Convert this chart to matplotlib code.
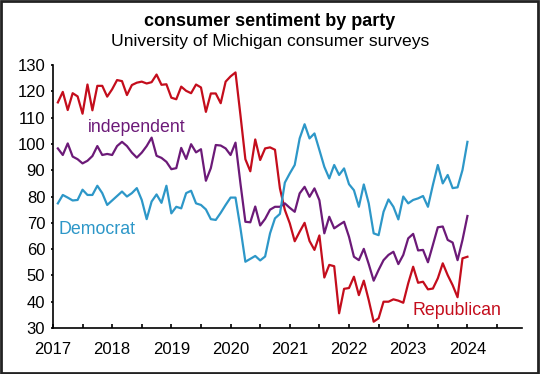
import numpy as np
import matplotlib
matplotlib.use('Agg')
import matplotlib.pyplot as plt
from matplotlib.patches import Rectangle

plt.rcParams['font.family'] = ['Liberation Sans', 'DejaVu Sans']

# monthly readings, Jan 2017 .. Dec 2023
republican = [115.8, 119.8, 112.9, 119.3, 118.1, 111.5, 122.6, 112.8, 122.1, 122.1, 118.0, 120.8,
              124.3, 123.9, 118.6, 122.4, 123.3, 123.7, 123.0, 123.5, 126.4, 122.5, 122.7, 117.6,
              117.0, 121.8, 120.2, 119.3, 122.6, 121.5, 112.2, 119.2, 119.2, 115.5, 123.7, 125.7,
              127.2, 111.0, 94.2, 89.6, 101.7, 93.9, 98.3, 98.7, 97.8, 83.1, 74.9, 69.8,
              63.0, 66.6, 70.0, 63.1, 59.7, 65.2, 49.2, 54.0, 53.5, 35.6, 44.9, 45.2,
              49.5, 42.5, 48.0, 40.6, 32.4, 33.7, 40.0, 40.0, 40.9, 40.4, 39.6, 47.0,
              53.3, 47.2, 47.6, 44.7, 45.0, 48.9, 54.6, 50.1, 46.3, 41.7, 56.5, 57.1]
independent = [98.3, 95.8, 100.2, 95.2, 94.2, 92.6, 93.6, 95.4, 99.2, 95.8, 96.2, 95.8,
               99.2, 100.8, 99.2, 96.7, 94.8, 96.7, 99.2, 102.4, 95.5, 94.7, 93.2, 90.4,
               90.8, 98.5, 94.3, 99.9, 96.8, 98.0, 86.0, 90.8, 99.6, 99.4, 98.3, 95.8,
               100.5, 85.0, 70.4, 70.2, 76.2, 69.0, 71.5, 75.0, 76.1, 76.1, 77.4, 75.7,
               74.2, 81.2, 83.7, 79.9, 83.1, 78.6, 66.0, 72.3, 67.9, 69.2, 70.4, 64.7,
               57.1, 55.8, 60.1, 54.3, 48.0, 52.1, 55.8, 57.8, 59.0, 54.3, 57.8, 64.1,
               65.8, 59.5, 59.7, 55.0, 61.6, 68.3, 68.6, 63.5, 62.5, 55.8, 63.5, 72.6]
democrat = [77.4, 80.6, 79.6, 78.5, 78.7, 82.6, 80.6, 80.6, 84.1, 81.3, 76.8, 78.5,
            80.2, 81.9, 80.0, 81.3, 83.2, 78.7, 71.4, 78.1, 80.8, 77.6, 84.1, 73.6,
            76.1, 75.5, 81.3, 82.2, 77.4, 76.8, 75.1, 71.4, 71.1, 73.8, 76.8, 79.6,
            79.6, 68.0, 55.2, 56.3, 57.4, 55.7, 57.2, 66.0, 71.7, 73.4, 85.3, 88.8,
            92.0, 102.1, 107.5, 102.1, 104.0, 97.7, 91.3, 86.9, 92.0, 88.2, 90.7, 84.7,
            82.4, 76.1, 84.6, 77.4, 66.0, 65.3, 74.2, 78.9, 76.1, 71.3, 80.0, 77.4,
            78.7, 79.3, 80.2, 76.1, 84.4, 92.0, 85.0, 88.2, 83.2, 83.5, 90.1, 100.8]

months = np.arange(1, len(republican) + 1)
t = 2017 + months / 12.0

red = '#c40d1c'
purple = '#6c1a78'
blue = '#2d97c8'

fig = plt.figure(figsize=(5.4, 3.74), dpi=100)
ax = fig.add_axes([0.098, 0.123, 0.8685, 0.703])

ax.plot(t, republican, color=red, lw=1.6)
ax.plot(t, independent, color=purple, lw=1.6)
ax.plot(t, democrat, color=blue, lw=1.6)

ax.text(2017.59, 106.4, 'independent', color=purple, fontsize=12.8, va='center', ha='left')
ax.text(2017.10, 67.6, 'Democrat', color=blue, fontsize=12.8, va='center', ha='left')
ax.text(2023.08, 36.5, 'Republican', color=red, fontsize=12.8, va='center', ha='left')

ax.set_xlim(2017, 2024.92)
ax.set_ylim(30, 130)
ax.set_xticks(range(2017, 2025))
ax.set_xticks(np.arange(2017.5, 2025, 1), minor=True)
ax.set_yticks(range(30, 131, 10))
ax.tick_params(axis='x', which='both', direction='in', length=3, width=1.2, labelsize=12, pad=10)
ax.tick_params(axis='y', direction='out', length=1.5, width=1.2, labelsize=12, pad=4)
for s in ['top', 'right']:
    ax.spines[s].set_visible(False)
for s in ['left', 'bottom']:
    ax.spines[s].set_linewidth(1.2)

fig.text(0.5, 0.943, 'consumer sentiment by party', ha='center', va='center',
         fontsize=13, fontweight='bold')
fig.text(0.5, 0.888, 'University of Michigan consumer surveys', ha='center', va='center',
         fontsize=12.6)

fig.patches.append(Rectangle((0.002, 0.003), 0.995, 0.994, transform=fig.transFigure,
                             fill=False, ec='#222222', lw=2))

fig.savefig('out.png', dpi=100)
